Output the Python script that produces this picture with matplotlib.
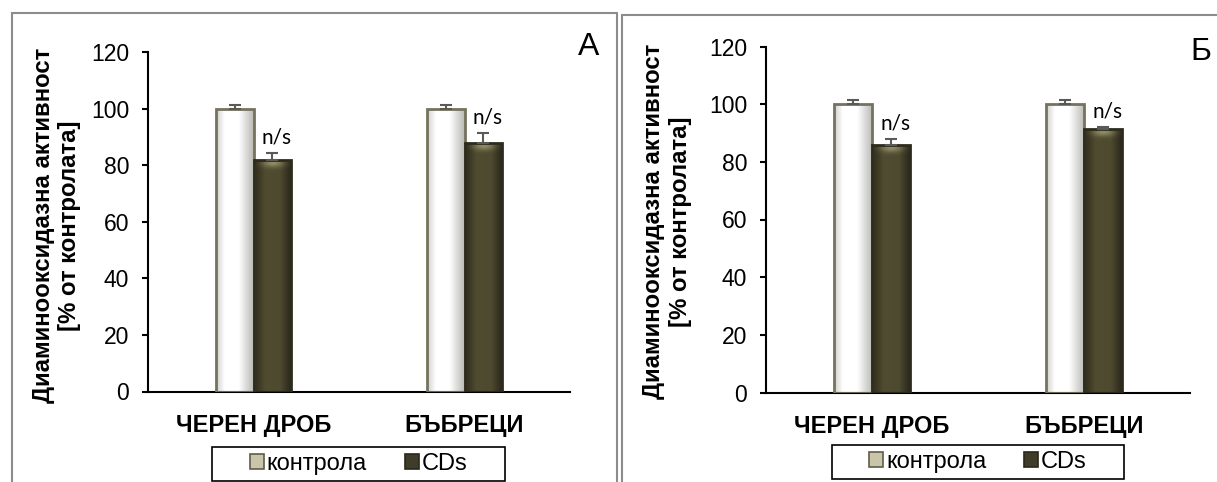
import numpy as np
import matplotlib
matplotlib.use("Agg")
import matplotlib.pyplot as plt
from matplotlib.patches import Patch, Rectangle
from matplotlib.colors import LinearSegmentedColormap, to_rgb

plt.rcParams['font.family'] = ['Liberation Sans', 'DejaVu Sans']

# ---- data -------------------------------------------------------------
categories = ["ЧЕРЕН ДРОБ", "БЪБРЕЦИ"]
series_names = ["контрола", "CDs"]

ctrl_a = [100, 100]
ctrl_a_err = [1.5, 1.5]
cds_a = [82, 88]
cds_a_err = [2.5, 3.5]

ctrl_b = [100, 100]
ctrl_b_err = [1.5, 1.5]
cds_b = [86, 91.5]
cds_b_err = [2.0, 0.6]

sig_labels = ["n/s", "n/s"]
yticks = [0, 20, 40, 60, 80, 100, 120]
ylabel = "Диаминооксидазна активност\n[% от контролата]"
panel_letters = ["А", "Б"]

# ---- styling ----------------------------------------------------------
W, H = 1217, 482
fig = plt.figure(figsize=(W / 100, H / 100), dpi=100)

light_cmap = LinearSegmentedColormap.from_list(
    "light", [(0, "#cfcfcc"), (0.22, "#ffffff"), (0.6, "#ffffff"), (1, "#b9b9b5")])
dark_cmap = LinearSegmentedColormap.from_list(
    "dark", [(0, "#2e2c1b"), (0.3, "#4f4c31"), (0.7, "#4d4a30"), (1, "#27251a")])

bar_w = 0.18


def top_glow(ax, b, color, depth=5.0):
    """Soft highlight along the top edge of a bar."""
    u = np.linspace(0, 1, 48)
    v = np.linspace(0, 1, 24)[:, None]          # 0 = top row, 1 = bottom row
    horiz = np.exp(-((u - 0.5) / 0.28) ** 2)[None, :]
    vert = np.exp(-((v - 0.25) / 0.3) ** 2)
    img = np.zeros((24, 48, 4))
    img[..., :3] = to_rgb(color)
    img[..., 3] = 0.75 * horiz * vert
    im = ax.imshow(img, aspect="auto", zorder=2.5,
                   extent=(b.get_x(), b.get_x() + b.get_width(),
                           b.get_height() - depth, b.get_height()))
    im.set_clip_path(b)


def shaded_bars(ax, x, vals, errs, cmap, edge, glow=None):
    bars = ax.bar(x, vals, bar_w, facecolor="none", edgecolor=edge,
                  linewidth=2.0, zorder=3)
    grad = np.linspace(0, 1, 64).reshape(1, -1)
    for b in bars:
        im = ax.imshow(grad, cmap=cmap, aspect="auto", zorder=2,
                       extent=(b.get_x(), b.get_x() + b.get_width(),
                               0, b.get_height()))
        im.set_clip_path(b)
        if glow:
            top_glow(ax, b, glow)
    ax.errorbar(x, vals, yerr=[np.zeros(len(vals)), errs], fmt="none",
                ecolor="#5a5a55", elinewidth=1.5, capsize=4.5, capthick=1.5,
                zorder=4)
    return bars


def panel(rect_px, ctrl, ctrl_err, cds, cds_err):
    x0, y_top, x1, y_bot = rect_px
    ax = fig.add_axes([x0 / W, 1 - y_bot / H, (x1 - x0) / W, (y_bot - y_top) / H])
    x = np.arange(len(categories))
    shaded_bars(ax, x - bar_w / 2, ctrl, ctrl_err, light_cmap, "#75725e")
    shaded_bars(ax, x + bar_w / 2, cds, cds_err, dark_cmap, "#2d2b1d",
                glow="#a8a37a")
    for xi, v, e, lab in zip(x + bar_w / 2, cds, cds_err, sig_labels):
        ax.annotate(lab, (xi, v + e), xytext=(3, 4), textcoords="offset points",
                    ha="center", va="bottom", fontsize=15,
                    family=["Lato", "DejaVu Sans"], zorder=5)
    ax.set_xlim(-0.5, len(categories) - 0.5)
    ax.set_ylim(0, 120)
    ax.set_yticks(yticks)
    ax.tick_params(axis="y", labelsize=16.5, length=4.5, width=1.5, pad=9)
    ax.set_xticks(x)
    ax.set_xticklabels(categories, fontsize=17, fontweight="bold")
    ax.tick_params(axis="x", length=0, pad=16)
    for s in ("top", "right"):
        ax.spines[s].set_visible(False)
    for s in ("left", "bottom"):
        ax.spines[s].set_linewidth(1.5)
        ax.spines[s].set_color("black")
    return ax


ax_a = panel((148, 52.3, 570, 391.5), ctrl_a, ctrl_a_err, cds_a, cds_a_err)
ax_b = panel((766, 46.5, 1190, 392.5), ctrl_b, ctrl_b_err, cds_b, cds_b_err)

# outer panel frames
frame_kw = dict(fill=False, edgecolor="#8c8c8c", linewidth=1.5,
                transform=fig.transFigure, figure=fig)
fig.patches.append(Rectangle((11.5 / W, -0.05), (617 - 11.5) / W,
                             1.05 - 13 / H, **frame_kw))
fig.patches.append(Rectangle((622 / W, -0.05), 1.1 - 622 / W,
                             1.05 - 15 / H, **frame_kw))

# y-axis titles
for cx, cy in ((56.5, 225.5), (667, 221.5)):
    fig.text(cx / W, 1 - cy / H, ylabel, rotation=90, ha="center",
             va="center", fontsize=17.3, fontweight="bold",
             multialignment="center", linespacing=1.2)

# panel letters
for (px, py), letter in zip(((589, 47), (1201, 52)), panel_letters):
    fig.text(px / W, 1 - py / H, letter, ha="center", va="center",
             fontsize=23)

# legends
handles = [Patch(facecolor="#c9c5ab", edgecolor="#5f5c48", linewidth=1.2),
           Patch(facecolor="#3f3d29", edgecolor="#2a2819", linewidth=1.2)]
for (bx0, by0, bx1, by1) in ((212, 447, 505, 481), (832, 445, 1124, 479)):
    fig.legend(handles, series_names, loc="center", ncol=2, frameon=False,
               bbox_to_anchor=((bx0 + bx1) / 2 / W, 1 - (by0 + by1) / 2 / H),
               fontsize=17, handlelength=0.6, handleheight=0.6,
               handletextpad=0.12, columnspacing=1.6, borderpad=0.2)
    fig.patches.append(Rectangle((bx0 / W, 1 - by1 / H), (bx1 - bx0) / W,
                                 (by1 - by0) / H, fill=False, edgecolor="black",
                                 linewidth=1.2, transform=fig.transFigure,
                                 figure=fig))

fig.savefig("out.png", dpi=100)
